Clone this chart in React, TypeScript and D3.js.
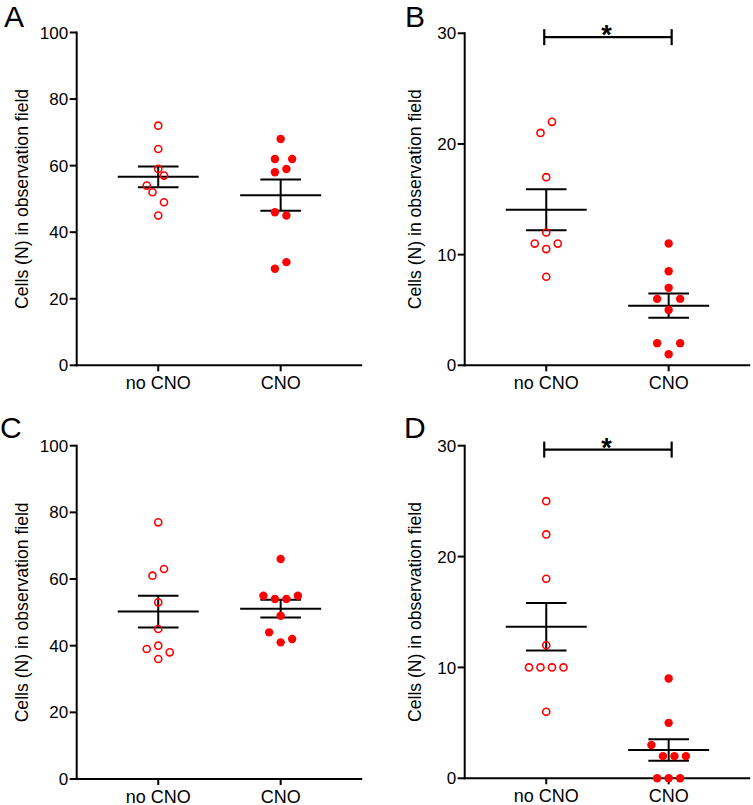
import React from "react";
import * as d3 from "d3";

// ---- data ----
const groups = ["no CNO", "CNO"];

const aNoCno = [72, 65, 59, 57, 54, 52, 49, 45];
const aCno = [68, 62, 62, 59, 58, 46, 45, 31, 29];
const bNoCno = [22, 21, 17, 12, 11, 11, 10.5, 8];
const bCno = [11, 8.5, 7, 6, 6, 5, 2, 2, 1];
const cNoCno = [77, 63, 61, 53, 45, 40, 39, 38, 36];
const cCno = [66, 55, 55, 54, 54, 49, 44, 42, 41];
const dNoCno = [25, 22, 18, 12, 10, 10, 10, 10, 6];
const dCno = [9, 5, 3, 2, 2, 2, 0, 0, 0];

// horizontal scatter slots (GraphPad-style spreading of overlapping points)
const aNoCnoSlot = [0, 0, 0, 1, -2, -1, 1, 0];
const aCnoSlot = [0, -1, 2, 1, -1, -1, 1, 1, -1];
const bNoCnoSlot = [1, -1, 0, 0, -2, 2, 0, 0];
const bCnoSlot = [0, 0, 0, -2, 2, 0, -2, 2, 0];
const cNoCnoSlot = [0, 1, -1, 0, 0, 0, -2, 2, 0];
const cCnoSlot = [0, -3, 3, -1, 1, 0, -2, 2, 0];
const dNoCnoSlot = [0, 0, 0, 0, -3, -1, 1, 3, 0];
const dCnoSlot = [0, 0, -3, -1, 1, 3, -2, 0, 2];

const ticksHigh = [0, 20, 40, 60, 80, 100];
const ticksLow = [0, 10, 20, 30];
const sigLevel = 29.65;

const yTitle = "Cells (N) in observation field";
const FONT = "'Liberation Sans', Arial, Helvetica, sans-serif";
const RED = "#ff0000";
const SLOT = 5.75;

type PanelDef = {
  letter: string;
  lx: number;
  ly: number;
  x0: number;
  top: number;
  bottom: number;
  max: number;
  ticks: number[];
  titleDx: number;
  noCno: number[];
  cno: number[];
  noCnoSlot: number[];
  cnoSlot: number[];
  sig: boolean;
};

const panels: PanelDef[] = [
  { letter: "A", lx: 4, ly: 26.7, x0: 76.7, top: 32.5, bottom: 365.3, max: 100, ticks: ticksHigh, titleDx: -48.5, noCno: aNoCno, cno: aCno, noCnoSlot: aNoCnoSlot, cnoSlot: aCnoSlot, sig: false },
  { letter: "B", lx: 405, ly: 26.7, x0: 464.7, top: 33.3, bottom: 365.3, max: 30, ticks: ticksLow, titleDx: -44, noCno: bNoCno, cno: bCno, noCnoSlot: bNoCnoSlot, cnoSlot: bCnoSlot, sig: true },
  { letter: "C", lx: 0, ly: 438.3, x0: 76.7, top: 445.7, bottom: 779, max: 100, ticks: ticksHigh, titleDx: -48.5, noCno: cNoCno, cno: cCno, noCnoSlot: cNoCnoSlot, cnoSlot: cCnoSlot, sig: false },
  { letter: "D", lx: 404, ly: 438.3, x0: 464.7, top: 445.7, bottom: 778.3, max: 30, ticks: ticksLow, titleDx: -44, noCno: dNoCno, cno: dCno, noCnoSlot: dNoCnoSlot, cnoSlot: dCnoSlot, sig: true },
];

function stats(v: number[]) {
  const m = d3.mean(v) as number;
  const sd = d3.deviation(v) as number;
  return { mean: m, sem: sd / Math.sqrt(v.length) };
}

function Panel({ p }: { p: PanelDef }) {
  const width = 285.5;
  const y = d3.scaleLinear().domain([0, p.max]).range([p.bottom, p.top]);
  const x = d3.scalePoint<string>().domain(groups).range([p.x0, p.x0 + width]).padding(0.666);
  const sets = [
    { g: groups[0], vals: p.noCno, slots: p.noCnoSlot, open: true },
    { g: groups[1], vals: p.cno, slots: p.cnoSlot, open: false },
  ];
  const midY = (p.top + p.bottom) / 2;
  return (
    <g>
      <text x={p.lx} y={p.ly} fontFamily={FONT} fontSize={30} fill="#000">{p.letter}</text>
      {/* axes */}
      <line x1={p.x0} x2={p.x0} y1={p.top - 1} y2={p.bottom + 1} stroke="#000" strokeWidth={2} />
      <line x1={p.x0 - 1} x2={p.x0 + width} y1={p.bottom} y2={p.bottom} stroke="#000" strokeWidth={2} />
      {p.ticks.map((t) => (
        <g key={t}>
          <line x1={p.x0 - 7} x2={p.x0} y1={y(t)} y2={y(t)} stroke="#000" strokeWidth={2} />
          <text x={p.x0 - 8.5} y={y(t) + 6.1} textAnchor="end" fontFamily={FONT} fontSize={17} fill="#000">{t}</text>
        </g>
      ))}
      {groups.map((g) => (
        <g key={g}>
          <line x1={x(g)} x2={x(g)} y1={p.bottom} y2={p.bottom + 6} stroke="#000" strokeWidth={2} />
          <text x={x(g)} y={p.bottom + 23.5} textAnchor="middle" fontFamily={FONT} fontSize={18} fill="#000">{g}</text>
        </g>
      ))}
      <text transform={`translate(${p.x0 + p.titleDx},${midY}) rotate(-90)`} textAnchor="middle" fontFamily={FONT} fontSize={17.6} fill="#000">{yTitle}</text>
      {/* mean +/- SEM */}
      {sets.map((s) => {
        const st = stats(s.vals);
        const cx = x(s.g) as number;
        return (
          <g key={"e" + s.g} stroke="#000" strokeWidth={2}>
            <line x1={cx - 40.5} x2={cx + 40.5} y1={y(st.mean)} y2={y(st.mean)} />
            <line x1={cx - 20.3} x2={cx + 20.3} y1={y(st.mean + st.sem)} y2={y(st.mean + st.sem)} />
            <line x1={cx - 20.3} x2={cx + 20.3} y1={y(st.mean - st.sem)} y2={y(st.mean - st.sem)} />
            <line x1={cx} x2={cx} y1={y(st.mean + st.sem)} y2={y(st.mean - st.sem)} />
          </g>
        );
      })}
      {/* points */}
      {sets.map((s) => (
        <g key={"p" + s.g}>
          {s.vals.map((v, i) => {
            const cx = (x(s.g) as number) + s.slots[i] * SLOT;
            return s.open ? (
              <circle key={i} cx={cx} cy={y(v)} r={3.55} fill="none" stroke={RED} strokeWidth={1.6} />
            ) : (
              <circle key={i} cx={cx} cy={y(v)} r={4.2} fill={RED} />
            );
          })}
        </g>
      ))}
      {p.sig && (() => {
        const x1 = (x(groups[0]) as number) - 2;
        const x2 = (x(groups[1]) as number) + 3;
        const ys = y(sigLevel);
        return (
          <g>
            <g stroke="#000" strokeWidth={2.2}>
              <line x1={x1} x2={x2} y1={ys} y2={ys} />
              <line x1={x1} x2={x1} y1={ys - 8} y2={ys + 8} />
              <line x1={x2} x2={x2} y1={ys - 8} y2={ys + 8} />
            </g>
            <text x={(x1 + x2) / 2 - 1.5} y={ys + 7} textAnchor="middle" fontFamily={FONT} fontWeight="bold" fontSize={27} fill="#000">*</text>
          </g>
        );
      })()}
    </g>
  );
}

export default function App() {
  return (
    <svg width={753} height={805} style={{ position: "absolute", left: 0, top: 0, background: "#fff" }}>
      <rect width={753} height={805} fill="#fff" />
      {panels.map((p) => (
        <Panel key={p.letter} p={p} />
      ))}
    </svg>
  );
}
